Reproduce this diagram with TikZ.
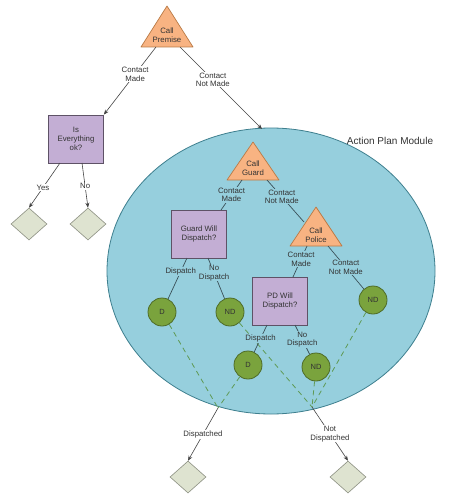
\documentclass[tikz,border=0pt]{standalone}
\usepackage{fontspec}
\setmainfont{Liberation Sans}
\usetikzlibrary{arrows.meta,shapes.geometric}
\definecolor{orng}{HTML}{F8B382}
\definecolor{orngd}{HTML}{B97A45}
\definecolor{purp}{HTML}{C3AED4}
\definecolor{purpd}{HTML}{5E5266}
\definecolor{cfill}{HTML}{96CFDD}
\definecolor{cline}{HTML}{3E7F8E}
\definecolor{grn}{HTML}{7AA33D}
\definecolor{grnd}{HTML}{4E6B27}
\definecolor{dia}{HTML}{DEE3D0}
\definecolor{diad}{HTML}{8C9082}
\definecolor{txt}{HTML}{333333}
\definecolor{lnk}{HTML}{444444}
\definecolor{inlnk}{HTML}{3A5058}
\definecolor{dash}{HTML}{5F9A55}
\tikzset{
  tri/.style={fill=orng,draw=orngd,line width=0.7pt,line join=round},
  trilabel/.style={text=txt,align=center,font=\fontsize{7.8}{8.6}\selectfont,inner sep=0pt},
  qbox/.style={rectangle,fill=purp,draw=purpd,line width=0.8pt,minimum width=55pt,minimum height=48pt,align=center,text=txt,font=\fontsize{7.8}{9}\selectfont},
  endnode/.style={diamond,fill=dia,draw=diad,line width=0.6pt,minimum width=36pt,minimum height=32pt,inner sep=0pt},
  res/.style={circle,fill=grn,draw=grnd,line width=0.8pt,minimum size=28pt,inner sep=0pt,text=txt,font=\fontsize{7.5}{8}\selectfont},
  lbl/.style={fill=white,inner sep=0.6pt,align=center,text=txt,font=\fontsize{7.8}{8.6}\selectfont},
  inlbl/.style={fill=cfill,inner sep=0.6pt,align=center,text=txt,font=\fontsize{7.8}{8.6}\selectfont},
  arr/.style={draw=lnk,line width=0.6pt,-{Stealth[length=5pt,width=4pt]}},
  inl/.style={draw=inlnk,line width=0.7pt},
  dsh/.style={draw=dash,line width=0.8pt,dash pattern=on 5pt off 4pt},
}
\begin{document}
\begin{tikzpicture}[x=1pt,y=-1pt]
\useasboundingbox[fill=white] (0,0) rectangle (450,495);

% module circle
\draw[fill=cfill,draw=cline,line width=0.8pt] (271,271) ellipse [x radius=164pt, y radius=143pt];
\node[text=txt,font=\fontsize{10}{12}\selectfont] (apm) at (390,141) {Action Plan Module};

% Call Premise
\draw[tri] (167,6) -- (193,47) -- (141,47) -- cycle;
\node[trilabel] (premise) at (167,35) {Call\\Premise};
\coordinate (premL) at (156,47);
\coordinate (premR) at (180,47);
\coordinate (cirtop) at (262,129);

% Is Everything ok
\node[qbox] (ev) at (76,139) {Is\\Everything\\ok?};
\node[endnode] (yes) at (29,224) {};
\node[endnode] (no) at (88,224) {};

\draw[arr] (premL) -- node[lbl,pos=0.4] {Contact\\Made} (ev.north east);
\draw[arr] (premR) -- node[lbl,pos=0.4] {Contact\\Not Made} (cirtop);
\coordinate (evy) at (60,163);
\coordinate (evn) at (82,163);
\draw[arr] (evy) -- node[lbl,pos=0.55] {Yes} (yes.north);
\draw[arr] (evn) -- node[lbl,pos=0.52] {No} (no.north);

% Call Guard
\draw[tri] (253,142) -- (279,180) -- (227,180) -- cycle;
\node[trilabel] (guard) at (253,168) {Call\\Guard};
\coordinate (guardL) at (242,180);
\coordinate (guardR) at (267,180);

% Guard box
\node[qbox] (gbox) at (199,234) {Guard Will\\Dispatch?};

% Call Police
\draw[tri] (316,207) -- (342,246) -- (290,246) -- cycle;
\node[trilabel] (police) at (316,235) {Call\\Police};
\coordinate (polL) at (307,246);
\coordinate (polR) at (328,246);
\coordinate (polin) at (304,222);

% PD box
\node[qbox] (pdbox) at (280,301) {PD Will\\Dispatch?};

% results
\node[res] (d1) at (162,312) {D};
\node[res] (nd1) at (230,312) {ND};
\node[res] (nd3) at (373,300) {ND};
\node[res] (d2) at (248,365) {D};
\node[res] (nd2) at (316,367) {ND};

\coordinate (cv1) at (218,408);
\coordinate (cv2) at (312,407);

% dashed merges
\draw[dsh] (d1) -- (cv1);
\draw[dsh] (d2) -- (cv1);
\draw[dsh] (nd1) -- (cv2);
\draw[dsh] (nd2) -- (cv2);
\draw[dsh] (nd3) -- (cv2);

% inner links
\draw[inl] (guardL) -- node[inlbl,pos=0.5] {Contact\\Made} (221,210);
\draw[inl] (guardR) -- node[inlbl,pos=0.4] {Contact\\Not Made} (polin);
\draw[inl] (187,258) -- node[inlbl,pos=0.33] {Dispatch} (d1);
\draw[inl] (208,258) -- node[inlbl,pos=0.37] {No\\Dispatch} (nd1);
\draw[inl] (polL) -- node[inlbl,pos=0.42] {Contact\\Made} (293,277);
\draw[inl] (polR) -- node[inlbl,pos=0.5] {Contact\\Not Made} (nd3);
\draw[inl] (267,325) -- node[inlbl,pos=0.5] {Dispatch} (d2);
\draw[inl] (295,325) -- node[inlbl,pos=0.5] {No\\Dispatch} (nd2);

% final outcomes
\node[endnode] (fd) at (188,477) {};
\node[endnode] (fnd) at (348,477) {};
\draw[arr] (cv1) -- node[lbl,pos=0.5] {Dispatched} (fd.north);
\draw[arr] (cv2) -- node[lbl,pos=0.5] {Not\\Dispatched} (fnd.north);
\end{tikzpicture}
\end{document}
